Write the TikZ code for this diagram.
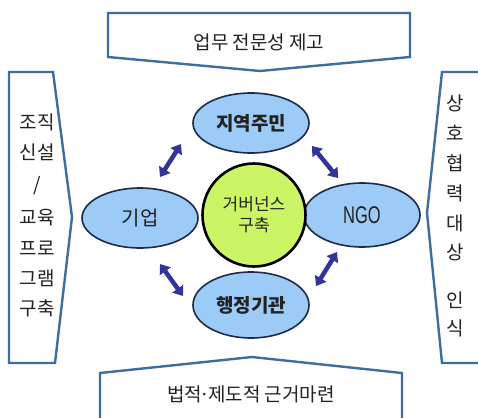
\documentclass[tikz,border=0pt]{standalone}
\usepackage{fontspec}
\newfontfamily\kr{Noto Sans CJK KR}
\newfontfamily\lat{Liberation Sans}
\usetikzlibrary{shapes.geometric,arrows.meta}
\definecolor{frameblue}{HTML}{3F6E9E}
\definecolor{ellfill}{HTML}{9CCBF8}
\definecolor{ellline}{HTML}{1E2B44}
\definecolor{ctrfill}{HTML}{CCF566}
\definecolor{arrowc}{HTML}{33339A}
\definecolor{txt}{HTML}{222222}
\tikzset{
  frame/.style={draw=frameblue, line width=2.4pt, line join=miter, fill=white},
  lbl/.style={font=\kr\fontsize{19}{19}\selectfont, text=txt, inner sep=0pt},
  party/.style={ellipse, draw=ellline, line width=1.6pt, fill=ellfill, minimum width=116pt, minimum height=60pt, inner sep=0pt, font=\kr\fontsize{20}{20}\selectfont, text=txt},
  hub/.style={circle, draw=black, line width=2.6pt, fill=ctrfill, minimum size=103pt, inner sep=0pt, align=center, font=\kr\fontsize{17}{21}\selectfont, text=txt},
  link/.style={arrowc, line width=4.5pt, {Triangle[width=13pt,length=9pt]}-{Triangle[width=13pt,length=9pt]}}
}
\begin{document}
\begin{tikzpicture}[x=1pt,y=-1pt]
\clip (0,0) rectangle (478,417);
\fill[white] (0,0) rectangle (478,417);
% frames
\draw[frame] (108,13) -- (410,13) -- (410,57) -- (260,71) -- (108,57) -- cycle;
\draw[frame] (100,373) -- (252,357) -- (402,373) -- (402,425) -- (100,425) -- cycle;
\draw[frame] (9,72) -- (53,72) -- (72,217) -- (55,363) -- (9,363) -- cycle;
\draw[frame] (485,72) -- (442,72) -- (427,213) -- (442,363) -- (485,363);
% frame texts
\node[lbl] (top) at (259,42) {업무 전문성 제고};
\node[lbl] (bot) at (251,394) {법적\hspace{-0.12em}·\hspace{-0.12em}제도적 근거마련};
\node[lbl] (l1) at (37,122) {조직};
\node[lbl] (l2) at (37,152) {신설};
\node[lbl] (l3) at (37,186) {/};
\node[lbl] (l4) at (37,218) {교육};
\node[lbl] (l5) at (37,248) {프로};
\node[lbl] (l6) at (37,278) {그램};
\node[lbl] (l7) at (37,308) {구축};
\node[lbl] (r1) at (455,103) {상};
\node[lbl] (r2) at (455,133) {호};
\node[lbl] (r3) at (455,163) {협};
\node[lbl] (r4) at (455,193) {력};
\node[lbl] (r5) at (455,223) {대};
\node[lbl] (r6) at (455,252) {상};
\node[lbl] (r7) at (455,300) {인};
\node[lbl] (r8) at (455,328) {식};
% parties
\node[party, font=\kr\bfseries\fontsize{19}{19}\selectfont] (res) at (251,123) {지역주민};
\node[party] (biz) at (140,218) {기업};
\node[party, minimum height=64pt, font=\lat\fontsize{22}{22}\selectfont] (ngo) at (362,215) {\scalebox{0.75}[1.1]{NGO}};
\node[party, minimum height=66pt, font=\kr\bfseries\fontsize{19}{19}\selectfont] (adm) at (251,305) {행정기관};
\node[hub] (gov) at (254,215) {거버넌스\\구축};
% links
\coordinate (tl1) at (160,177); \coordinate (tl2) at (181,144);
\coordinate (tr1) at (312,146); \coordinate (tr2) at (338,178);
\coordinate (bl1) at (160,264); \coordinate (bl2) at (183,296);
\coordinate (br1) at (316,286); \coordinate (br2) at (337,252);
\draw[link] (tl1) -- (tl2);
\draw[link] (tr1) -- (tr2);
\draw[link] (bl1) -- (bl2);
\draw[link] (br1) -- (br2);
\end{tikzpicture}
\end{document}
